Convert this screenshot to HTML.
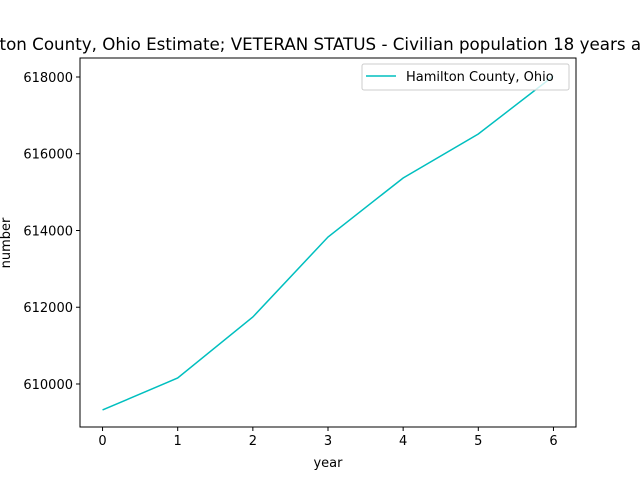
<!DOCTYPE html>
<html><head><meta charset="utf-8"><style>
body{margin:0;background:#fff}
svg text{font-family:"DejaVu Sans","Liberation Sans",sans-serif;fill:#000}
</style></head><body>
<svg id="chart" width="640" height="480" viewBox="0 0 640 480">
<rect width="640" height="480" fill="#fff"/>
<text x="328" y="50" font-size="16.7" text-anchor="middle">Hamilton County, Ohio Estimate; VETERAN STATUS - Civilian population 18 years and over</text>
<g id="axes"></g>
<text x="328" y="467" font-size="13" text-anchor="middle">year</text>
<text x="0" y="0" font-size="13" text-anchor="middle" transform="translate(10,243) rotate(-90)">number</text>
<g>
<rect x="362" y="64" width="207" height="26" fill="#fff" fill-opacity="0.8" stroke="#ccc" rx="2"/>
<line x1="366" y1="76" x2="396" y2="76" stroke="#00bfbf" stroke-width="1.5"/>
<text x="406" y="81" font-size="13">Hamilton County, Ohio</text>
</g>
</svg>
<script>
const years=[0,1,2,3,4,5,6];
const values=[609323,610156,611746,613830,615368,616515,618026];
const yTicks=[610000,612000,614000,616000,618000];
const xTicks=[0,1,2,3,4,5,6];
const L=80,R=576,T=58,B=427;
const xMin=-0.3,xMax=6.3,yMin=608879,yMax=618495;
const sx=v=>L+(v-xMin)/(xMax-xMin)*(R-L);
const sy=v=>B-(v-yMin)/(yMax-yMin)*(B-T);
const NS="http://www.w3.org/2000/svg";
const g=document.getElementById('axes');
function mk(t,a){const e=document.createElementNS(NS,t);for(const k in a)e.setAttribute(k,a[k]);g.appendChild(e);return e;}
xTicks.forEach(v=>{
const x=sx(v);
const tk=mk('line',{x1:x,y1:B,x2:x,y2:B+4,stroke:'#000'});


const t=mk('text',{x:x,y:B+18,'font-size':13,'text-anchor':'middle'});
t.textContent=v;


});
yTicks.forEach(v=>{
const y=sy(v);
const tk=mk('line',{x1:L-4,y1:y,x2:L,y2:y,stroke:'#000'});


const t=mk('text',{x:L-7,y:y+5,'font-size':13,'text-anchor':'end'});
t.textContent=v;


});
const p=mk('polyline',{points:years.map((y,i)=>sx(y)+','+sy(values[i])).join(' '),fill:'none',stroke:'#00bfbf','stroke-width':1.5});


const f=mk('rect',{x:L,y:T,width:R-L,height:B-T,fill:'none',stroke:'#000','stroke-width':1});


</script>
</body></html>
